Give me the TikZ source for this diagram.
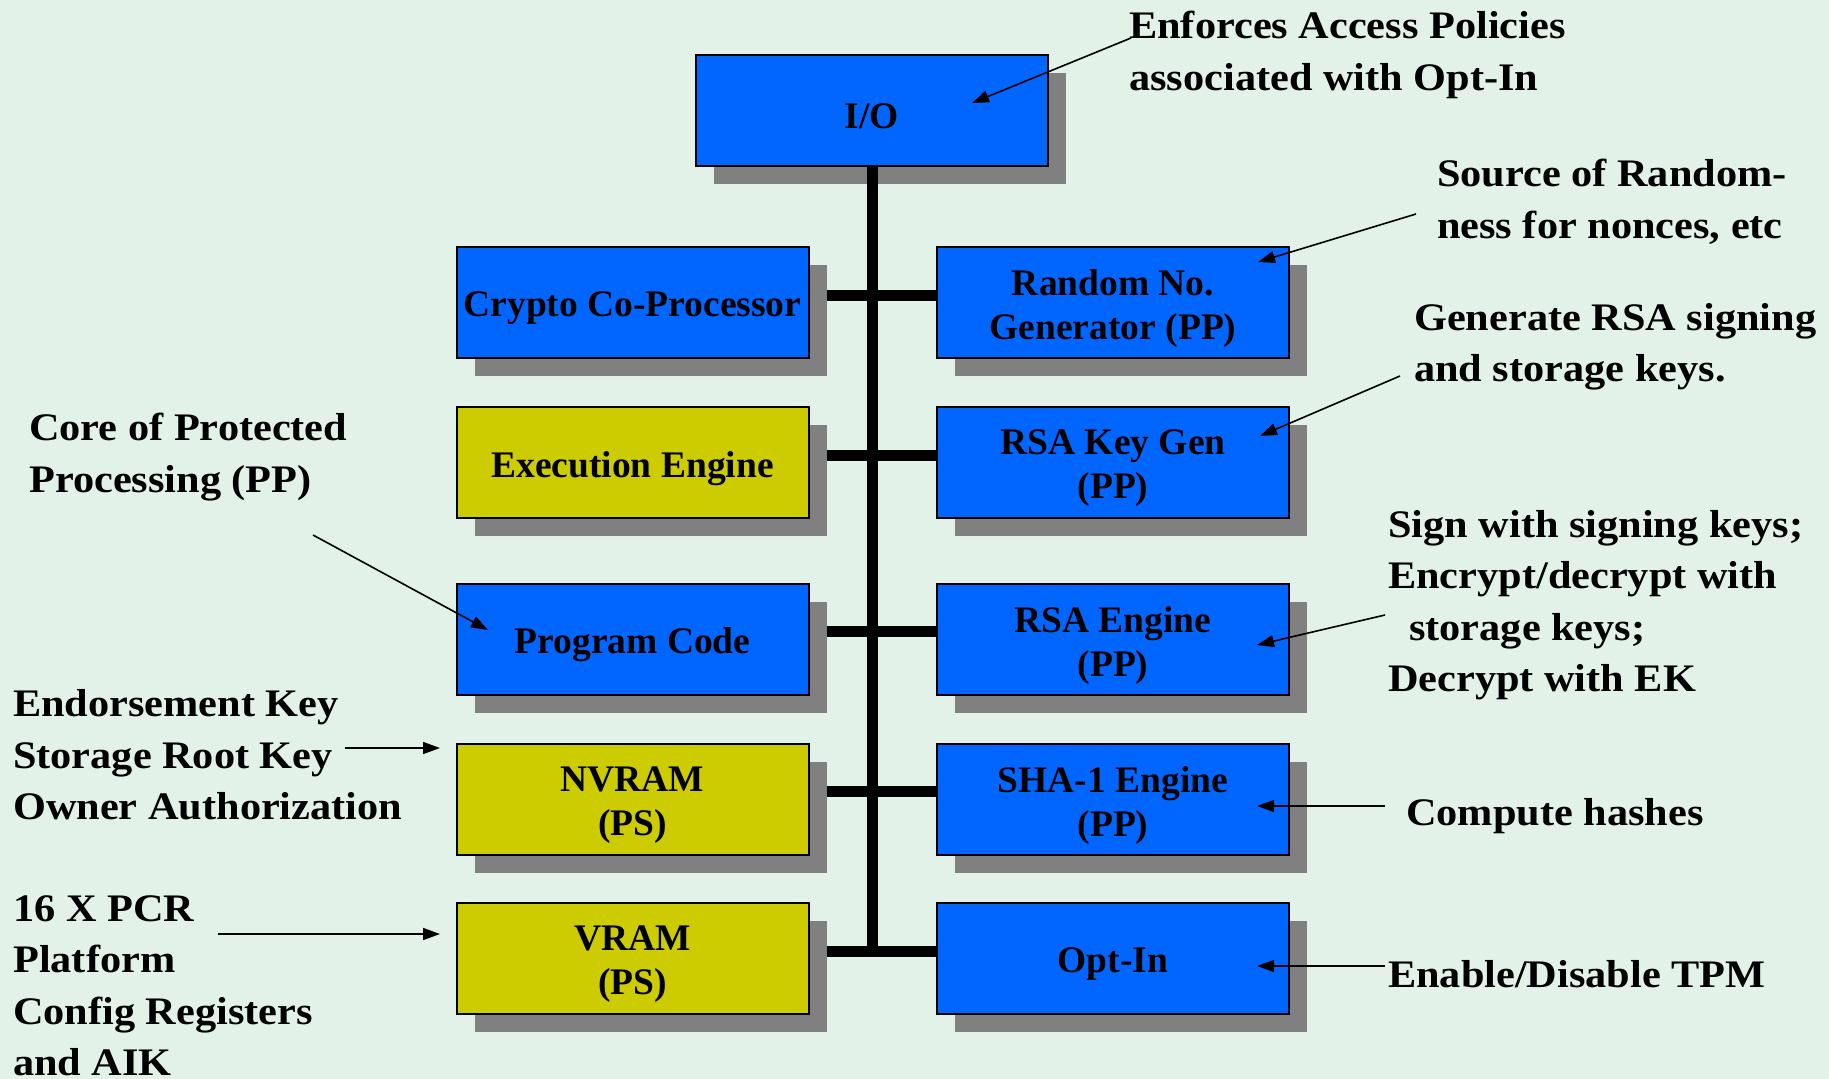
\documentclass[tikz,border=0pt]{standalone}
\usepackage{fontspec}
\setmainfont{Liberation Serif}
\newfontfamily\notefont[FakeStretch=1.085]{Liberation Serif}
\usetikzlibrary{arrows.meta,shadows,calc}
\definecolor{bg}{HTML}{E2F2E9}
\definecolor{boxblue}{HTML}{0066FF}
\definecolor{boxolive}{HTML}{CCCC00}
\definecolor{shade}{HTML}{808080}
\tikzset{
  unit/.style={draw=black, line width=2pt, minimum width=352pt, minimum height=111pt,
    inner sep=0pt,
    drop shadow={shadow xshift=18pt, shadow yshift=-18pt, fill=shade, opacity=1}},
  pp/.style={unit, fill=boxblue},
  ps/.style={unit, fill=boxolive},
  unittext/.style={inner sep=0pt, align=center, font=\bfseries\fontsize{37.5}{44}\selectfont},
  note/.style={inner sep=0pt, align=left, anchor=west,
    font=\notefont\bfseries\fontsize{39}{51.5}\selectfont},
  bus/.style={line width=11pt, black},
  callout/.style={line width=1.6pt, -{Triangle[length=17pt,width=12pt]}},
}
% a functional unit: box with shadow, and its caption set slightly low
\newcommand\unitbox[4]{%
  \node[#1] (#2) at (#3) {};
  \node[unittext] (#2-text) at ($(#2.center)+(0,6)$) {#4};}
\begin{document}
\begin{tikzpicture}[x=1pt, y=-1pt]
\useasboundingbox (0,0) rectangle (1829,1079);
\fill[bg] (0,0) rectangle (1829,1079);

% junction points on the bus, one per row
\coordinate (j1) at (872,295);
\coordinate (j2) at (872,455);
\coordinate (j3) at (872,631);
\coordinate (j4) at (872,791);
\coordinate (j5) at (872,951);

% horizontal bus branches (drawn under the units)
\foreach \r in {1,...,5}
  \draw[bus] ($(j\r)+(-80,0)$) -- ($(j\r)+(80,0)$);

% functional units
\unitbox{pp}{io}{872,110.5}{I/O}
\unitbox{pp}{crypto}{632.5,302.5}{Crypto Co-Processor}
\unitbox{pp}{rng}{1113,302.5}{Random No.\\Generator (PP)}
\unitbox{ps}{exec}{632.5,462.5}{Execution Engine}
\unitbox{pp}{keygen}{1113,462.5}{RSA Key Gen\\(PP)}
\unitbox{pp}{prog}{632.5,639}{Program Code}
\unitbox{pp}{rsa}{1113,639}{RSA Engine\\(PP)}
\unitbox{ps}{nvram}{632.5,799}{NVRAM\\(PS)}
\unitbox{pp}{sha}{1113,799}{SHA-1 Engine\\(PP)}
\unitbox{ps}{vram}{632.5,958.5}{VRAM\\(PS)}
\unitbox{pp}{optin}{1113,958.5}{Opt-In}

% main vertical bus from I/O down to the last row
\draw[bus] (io.south) -- ($(j5)+(0,5.5)$);

% annotations
\node[note] (nio)   at (1129,55)  {Enforces Access Policies\\associated with Opt-In};
\node[note] (nrng)  at (1437,202) {Source of Random-\\ness for nonces, etc};
\node[note] (nkey)  at (1414,347) {Generate RSA signing\\and storage keys.};
\node[note] (nrsa)  at (1388,605) {Sign with signing keys;\\Encrypt/decrypt with\\\hspace*{21pt}storage keys;\\Decrypt with EK};
\node[note] (nsha)  at (1406,816) {Compute hashes};
\node[note] (nopt)  at (1388,974) {Enable/Disable TPM};
\node[note] (ncore) at (29,457)   {Core of Protected\\Processing (PP)};
\node[note] (nnv)   at (13,755)   {Endorsement Key\\Storage Root Key\\Owner Authorization};
\node[note] (nv)    at (13,986)   {16 X PCR\\Platform\\Config Registers\\and AIK};

% callout end points
\coordinate (sio)   at (1131,38);   \coordinate (tio)   at (972,103);
\coordinate (srng)  at (1416,214);  \coordinate (trng)  at (1258,262);
\coordinate (skey)  at (1400,376);  \coordinate (tkey)  at (1260,436);
\coordinate (srsa)  at (1385,615);  \coordinate (trsa)  at (1257,645);
\coordinate (ssha)  at (1385,806);  \coordinate (tsha)  at (1257,806);
\coordinate (sopt)  at (1385,966);  \coordinate (topt)  at (1257,966);
\coordinate (score) at (313,535);   \coordinate (tcore) at (488,630);
\coordinate (snv)   at (345,748);   \coordinate (tnv)   at (440,748);
\coordinate (sv)    at (218,934);   \coordinate (tv)    at (440,934);

\foreach \a in {io,rng,key,rsa,sha,opt,core,nv,v}
  \draw[callout] (s\a) -- (t\a);
\end{tikzpicture}
\end{document}
